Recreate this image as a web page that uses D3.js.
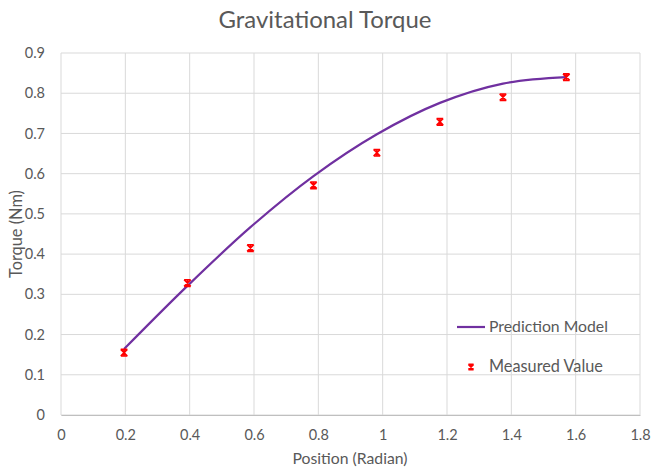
<!DOCTYPE html>
<html>
<head>
<meta charset="utf-8">
<script src="https://cdn.jsdelivr.net/npm/d3@7/dist/d3.min.js"></script>
<style>
  html, body { margin: 0; padding: 0; background: #fff; }
  svg { display: block; }
  text { font-family: Lato, "Open Sans", "Liberation Sans", sans-serif; fill: #595959; }
</style>
</head>
<body>
<svg id="chart" width="654" height="468"></svg>
<script>
// Angular positions (rad) where torque was evaluated
const positions = [0.196, 0.393, 0.589, 0.785, 0.982, 1.178, 1.374, 1.571];
// Model prediction at each position (Nm)
const predicted = [0.164, 0.321, 0.467, 0.594, 0.698, 0.776, 0.824, 0.840];
// Measured torque at each position (Nm)
const measured = [0.155, 0.328, 0.415, 0.571, 0.652, 0.729, 0.790, 0.840];

const xTicks = [0, 0.2, 0.4, 0.6, 0.8, 1, 1.2, 1.4, 1.6, 1.8];
const yTicks = [0, 0.1, 0.2, 0.3, 0.4, 0.5, 0.6, 0.7, 0.8, 0.9];

const seriesNames = ["Prediction Model", "Measured Value"];
const lineColor = "#7030A0";
const markColor = "#FF0000";
const font = 'Lato, "Open Sans", "Liberation Sans", sans-serif';

const svg = d3.select("#chart");
const plotL = 61, plotR = 640, plotT = 53, plotB = 415;

const x = d3.scaleLinear().domain([0, 1.8]).range([plotL, plotR]);
const y = d3.scaleLinear().domain([0, 0.9]).range([plotB, plotT]);

// scale a text element's font so its width comes to `w` pixels
function fitWidth(sel, w) {
  const node = sel.node();
  const fs = parseFloat(sel.attr("font-size"));
  const cur = node.getComputedTextLength();
  if (cur > 0) sel.attr("font-size", (fs * w / cur).toFixed(2));
  return sel;
}

// gridlines
svg.append("g").selectAll("line").data(xTicks).join("line")
  .attr("x1", d => x(d)).attr("x2", d => x(d))
  .attr("y1", plotT).attr("y2", plotB)
  .attr("stroke", "#D9D9D9").attr("stroke-width", 1);
svg.append("g").selectAll("line").data(yTicks).join("line")
  .attr("x1", plotL).attr("x2", plotR)
  .attr("y1", d => y(d)).attr("y2", d => y(d))
  .attr("stroke", "#D9D9D9").attr("stroke-width", 1);

// axes (labels only, lines come from grid)
const xAxis = svg.append("g").attr("transform", `translate(0,${plotB})`)
  .call(d3.axisBottom(x).tickValues(xTicks).tickSize(0).tickPadding(15).tickFormat(d3.format("")));
xAxis.select(".domain").attr("stroke", "#BFBFBF");
xAxis.selectAll("text").attr("font-size", 14.5).style("fill", "#595959").style("font-family", font);

const yAxis = svg.append("g").attr("transform", `translate(${plotL},0)`)
  .call(d3.axisLeft(y).tickValues(yTicks).tickSize(0).tickPadding(16).tickFormat(d3.format("")));
yAxis.select(".domain").remove();
yAxis.selectAll("text").attr("font-size", 14.5).style("fill", "#595959").style("font-family", font);

// prediction curve
const pts = positions.map((p, i) => [p, predicted[i]]);
svg.append("path")
  .datum(pts)
  .attr("fill", "none")
  .attr("stroke", lineColor)
  .attr("stroke-width", 2.2)
  .attr("d", d3.line().x(d => x(d[0])).y(d => y(d[1])).curve(d3.curveCatmullRom.alpha(0.5)));

// star marker: an x closed by short bars at top and bottom, plus a vertical stroke
function star(g, cx, cy, r) {
  g.append("path")
    .attr("d", `M${cx - r},${cy - r}L${cx + r},${cy + r}M${cx - r},${cy + r}L${cx + r},${cy - r}M${cx - r},${cy - r}L${cx + r},${cy - r}M${cx - r},${cy + r}L${cx + r},${cy + r}M${cx},${cy - r}L${cx},${cy + r}`)
    .attr("stroke", markColor).attr("stroke-width", 1.6).attr("fill", "none");
}
const marks = svg.append("g");
positions.forEach((p, i) => star(marks, x(p), y(measured[i]), 3.3));

// title
fitWidth(svg.append("text")
  .attr("x", 325).attr("y", 28)
  .attr("text-anchor", "middle")
  .attr("font-size", 21)
  .text("Gravitational Torque"), 213);

// axis titles
fitWidth(svg.append("text")
  .attr("x", 350).attr("y", 464)
  .attr("text-anchor", "middle")
  .attr("font-size", 14.5)
  .text("Position (Radian)"), 115);
fitWidth(svg.append("text")
  .attr("transform", "translate(22,234) rotate(-90)")
  .attr("text-anchor", "middle")
  .attr("font-size", 14.5)
  .text("Torque (Nm)"), 88);

// legend
const lg = svg.append("g");
lg.append("line").attr("x1", 457).attr("x2", 485).attr("y1", 327).attr("y2", 327)
  .attr("stroke", lineColor).attr("stroke-width", 2.2);
fitWidth(lg.append("text").attr("x", 489).attr("y", 332).attr("font-size", 14.5).text(seriesNames[0]), 119);
star(lg, 471, 367, 2.6);
fitWidth(lg.append("text").attr("x", 489).attr("y", 372).attr("font-size", 14.5).text(seriesNames[1]), 114);
</script>
</body>
</html>
